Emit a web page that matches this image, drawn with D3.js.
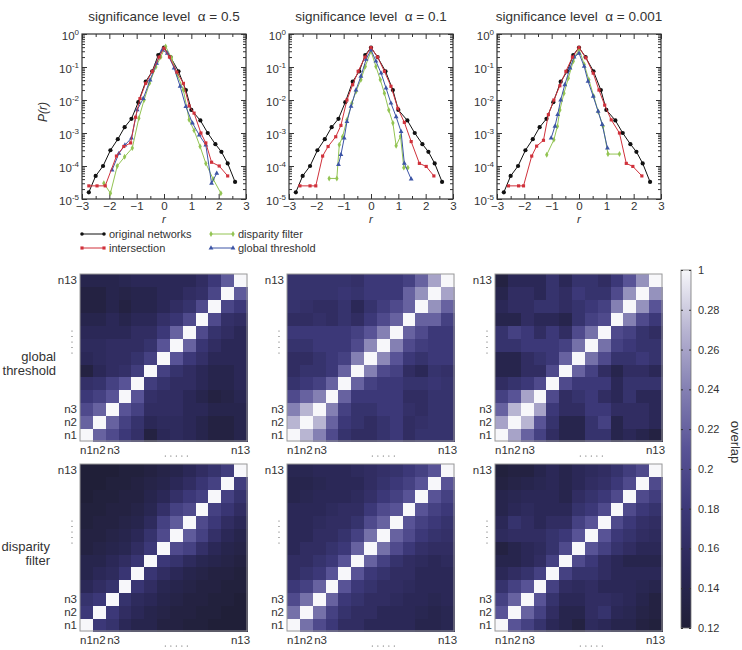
<!DOCTYPE html>
<meta charset="utf-8">
<style>
  body { margin: 0; background: #fff; }
  text { font-family: "Liberation Sans", Arial, sans-serif; fill: #333; }
  .axis path { display: none; }
  .axis line { stroke: #333; }
  rect.cell { shape-rendering: crispEdges; }
</style>
<body>
<script src="https://d3js.org/d3.v7.min.js"></script>
<script>

// ---- data ----
var alphas = ["0.5", "0.1", "0.001"];
var xTicks = [-3, -2, -1, 0, 1, 2, 3];
var yTicks = [1, 1e-1, 1e-2, 1e-3, 1e-4, 1e-5];
var yExp = ["0", "-1", "-2", "-3", "-4", "-5"];

// original networks (same in every panel)
var original = [[-2.75,1.6e-5],[-2.5,5e-5],[-2.23,1e-4],[-1.96,3e-4],[-1.69,6.5e-4],[-1.44,1.5e-3],
  [-1.19,2.7e-3],[-0.94,8.6e-3],[-0.67,3.6e-2],[-0.43,7.4e-2],[-0.21,2.3e-1],[0,3.9e-1],[0.24,2e-1],
  [0.53,7.4e-2],[0.8,2e-2],[1.0,5e-3],[1.33,2.4e-3],[1.6,1e-3],[1.88,4.6e-4],[2.1,2.7e-4],[2.33,1.2e-4],[2.6,3.3e-5]];

var intersect05 = [[-2.75,2.5e-5],[-2.45,2.5e-5],[-2.15,2.5e-5],[-1.74,2e-4],[-1.47,3.9e-4],[-1.22,5e-4],
  [-1.04,3e-3],[-0.88,1.1e-2],[-0.67,3.2e-2],[-0.43,7.3e-2],[-0.18,2e-1],[0,3.7e-1],[0.2,2e-1],[0.47,7e-2],
  [0.71,3.2e-2],[0.92,6.6e-3],[1.1,4e-3],[1.35,1e-3],[1.53,5e-4],[1.74,1.3e-4],[2.02,1e-4],[2.33,5e-5]];
var disparity05 = [[-2.2,3e-5],[-1.96,1.5e-5],[-1.71,1e-4],[-1.44,1.9e-4],[-1.16,3.5e-4],[-0.92,2.8e-3],
  [-0.73,1e-2],[-0.53,3.2e-2],[-0.3,1e-1],[-0.12,2e-1],[0.06,4.2e-1],[0.27,1.9e-1],[0.49,5.8e-2],[0.71,2e-2],
  [0.92,2.5e-3],[1.1,1.2e-3],[1.32,3.9e-4],[1.53,1.2e-4],[1.8,4e-5],[2.08,1.5e-5]];
var global05 = [[-1.9,7.5e-5],[-1.65,2.4e-4],[-1.43,4.3e-4],[-1.19,7e-4],[-0.98,5e-3],[-0.76,1.1e-2],
  [-0.51,4e-2],[-0.27,1.3e-1],[-0.06,3.3e-1],[0.12,2.6e-1],[0.37,9.3e-2],[0.59,2.6e-2],[0.8,6.3e-3],
  [1.04,2e-3],[1.29,8.7e-4],[1.53,4.3e-4],[1.74,3e-5],[1.93,6e-5]];

var intersect01 = [[-2.6,2.5e-5],[-2.23,2.5e-5],[-2.02,2.5e-5],[-1.77,2e-4],[-1.57,3.9e-4],[-1.29,7.7e-4],
  [-1.1,1.7e-3],[-0.88,1e-2],[-0.67,2.9e-2],[-0.47,7.4e-2],[-0.22,2e-1],[0,3.9e-1],[0.24,2e-1],[0.49,7.4e-2],
  [0.73,2.6e-2],[0.98,5.6e-3],[1.22,2.1e-3],[1.47,5.5e-4],[1.77,1.2e-4],[2.02,9.7e-5],[2.3,5e-5]];
var disparity01 = [[-1.53,4.2e-5],[-1.25,4.2e-5],[-1.16,4.4e-4],[-1.04,7.7e-4],[-0.88,2.5e-3],[-0.7,8e-3],
  [-0.55,1.8e-2],[-0.37,4.1e-2],[-0.21,1.04e-1],[0,3e-1],[0.18,1.04e-1],[0.34,4.1e-2],[0.49,1.6e-2],
  [0.65,5e-3],[0.8,2e-3],[0.92,4.1e-4],[1.08,8e-4],[1.2,8.9e-5],[1.35,8.9e-5]];
var global01 = [[-1.19,1.1e-4],[-1.1,2.2e-4],[-0.98,7e-4],[-0.88,2.2e-3],[-0.73,6.4e-3],[-0.55,2e-2],
  [-0.37,5.2e-2],[-0.18,1.7e-1],[0,3.3e-1],[0.18,1.5e-1],[0.37,6.5e-2],[0.55,2.3e-2],[0.73,8e-3],
  [0.92,3.1e-3],[1.1,1.1e-3],[1.22,1.2e-4],[1.47,4e-5]];

var intersect0001 = [[-2.58,2.5e-5],[-2.21,2.5e-5],[-2.03,2.5e-5],[-1.73,2e-4],[-1.55,4e-4],[-1.3,6e-4],
  [-1.12,3.6e-3],[-0.92,1e-2],[-0.7,2.7e-2],[-0.48,7.4e-2],[-0.24,2e-1],[0,3.9e-1],[0.25,1.9e-1],
  [0.52,6.5e-2],[0.73,2e-2],[0.94,7e-3],[1.18,2.5e-3],[1.48,1e-3],[1.73,1.2e-4],[1.97,9.7e-5],[2.3,5e-5]];
var disparity0001 = [[-1.18,2.2e-4],[-0.92,6.2e-4],[-0.79,1.6e-3],[-0.7,5e-3],[-0.55,1.6e-2],[-0.39,4.6e-2],
  [-0.21,1.5e-1],[0,3.5e-1],[0.19,1.2e-1],[0.36,4.1e-2],[0.54,1.3e-2],[0.7,4.5e-3],[0.88,1.6e-3],
  [1.06,2.3e-4],[1.48,2.3e-4]];
var global0001 = [[-1.02,7e-4],[-0.88,1.6e-3],[-0.78,3.6e-3],[-0.67,1e-2],[-0.52,2.9e-2],[-0.33,9.3e-2],
  [-0.18,2e-1],[0,2.6e-1],[0.19,1.04e-1],[0.33,3.7e-2],[0.52,1.3e-2],[0.7,4.5e-3],[0.85,1.8e-3],[1.04,3.5e-4]];

// overlap matrices, lower triangle: row i (n2..n13) holds columns n1..n(i)
var gt05 = [
  [0.22],
  [0.20,0.22],
  [0.18,0.19,0.21],
  [0.165,0.17,0.19,0.21],
  [0.13,0.15,0.16,0.165,0.185],
  [0.15,0.155,0.16,0.16,0.17,0.19],
  [0.155,0.155,0.16,0.16,0.16,0.17,0.21],
  [0.15,0.15,0.15,0.15,0.16,0.16,0.18,0.22],
  [0.14,0.14,0.15,0.14,0.15,0.15,0.165,0.175,0.20],
  [0.13,0.13,0.14,0.13,0.14,0.14,0.15,0.16,0.17,0.20],
  [0.13,0.13,0.14,0.135,0.14,0.14,0.15,0.15,0.16,0.165,0.195],
  [0.14,0.14,0.14,0.145,0.15,0.15,0.15,0.15,0.15,0.16,0.18,0.215]];
var gt01 = [
  [0.27],
  [0.24,0.27],
  [0.20,0.22,0.24],
  [0.17,0.18,0.19,0.22],
  [0.16,0.17,0.17,0.18,0.22],
  [0.16,0.16,0.17,0.18,0.19,0.24],
  [0.17,0.17,0.18,0.18,0.18,0.20,0.245],
  [0.18,0.18,0.18,0.18,0.18,0.19,0.21,0.24],
  [0.16,0.16,0.165,0.16,0.17,0.16,0.18,0.20,0.22],
  [0.17,0.165,0.16,0.16,0.17,0.15,0.17,0.185,0.20,0.22],
  [0.17,0.17,0.17,0.17,0.175,0.17,0.18,0.18,0.18,0.22,0.25],
  [0.17,0.17,0.17,0.17,0.17,0.165,0.18,0.18,0.18,0.19,0.22,0.26]];
var gt0001 = [
  [0.26],
  [0.22,0.27],
  [0.19,0.21,0.26],
  [0.16,0.17,0.18,0.20],
  [0.14,0.14,0.16,0.16,0.20],
  [0.14,0.14,0.16,0.17,0.18,0.22],
  [0.17,0.17,0.18,0.18,0.18,0.19,0.23],
  [0.17,0.19,0.18,0.16,0.18,0.16,0.20,0.23],
  [0.14,0.14,0.16,0.15,0.15,0.14,0.17,0.19,0.20],
  [0.15,0.16,0.16,0.17,0.17,0.16,0.17,0.18,0.19,0.24],
  [0.14,0.16,0.16,0.15,0.17,0.16,0.18,0.17,0.17,0.20,0.25],
  [0.13,0.15,0.15,0.15,0.17,0.15,0.17,0.17,0.16,0.18,0.21,0.25]];
var df05 = [
  [0.18],
  [0.17,0.18],
  [0.15,0.16,0.17],
  [0.14,0.15,0.155,0.175],
  [0.14,0.14,0.15,0.16,0.175],
  [0.13,0.135,0.14,0.145,0.16,0.18],
  [0.13,0.13,0.135,0.14,0.15,0.17,0.20],
  [0.125,0.13,0.13,0.135,0.14,0.155,0.19,0.215],
  [0.125,0.125,0.13,0.13,0.135,0.145,0.165,0.19,0.20],
  [0.12,0.125,0.125,0.13,0.13,0.14,0.15,0.165,0.18,0.19],
  [0.12,0.12,0.125,0.125,0.13,0.135,0.14,0.15,0.16,0.175,0.19],
  [0.12,0.12,0.12,0.125,0.125,0.13,0.135,0.14,0.15,0.16,0.17,0.185]];
var df01 = [
  [0.23],
  [0.20,0.23],
  [0.18,0.19,0.22],
  [0.16,0.17,0.18,0.21],
  [0.16,0.16,0.17,0.18,0.21],
  [0.15,0.16,0.16,0.17,0.18,0.22],
  [0.15,0.15,0.16,0.16,0.17,0.19,0.23],
  [0.15,0.15,0.155,0.16,0.16,0.17,0.20,0.22],
  [0.15,0.15,0.15,0.155,0.16,0.16,0.18,0.20,0.21],
  [0.14,0.145,0.15,0.15,0.15,0.155,0.165,0.18,0.19,0.21],
  [0.14,0.14,0.145,0.15,0.15,0.15,0.16,0.17,0.18,0.19,0.21],
  [0.145,0.145,0.15,0.15,0.15,0.155,0.16,0.165,0.17,0.18,0.19,0.21]];
var df0001 = [
  [0.21],
  [0.19,0.22],
  [0.17,0.19,0.21],
  [0.15,0.16,0.17,0.19],
  [0.14,0.14,0.15,0.16,0.19],
  [0.13,0.14,0.15,0.155,0.17,0.20],
  [0.155,0.16,0.16,0.16,0.17,0.18,0.21],
  [0.15,0.17,0.16,0.15,0.16,0.16,0.19,0.21],
  [0.14,0.15,0.155,0.15,0.15,0.15,0.17,0.18,0.20],
  [0.14,0.145,0.15,0.15,0.15,0.14,0.16,0.17,0.18,0.20],
  [0.13,0.135,0.14,0.145,0.15,0.14,0.15,0.16,0.165,0.18,0.20],
  [0.125,0.13,0.13,0.14,0.15,0.14,0.15,0.155,0.16,0.17,0.185,0.20]];

var cbTicks = [0.12, 0.14, 0.16, 0.18, 0.2, 0.22, 0.24, 0.26, 0.28, 0.30];

// ---- layout ----
var svg = d3.select("body").append("svg").attr("width", 742).attr("height", 650);

var seriesStyle = [
  {name: "original networks", color: "#111111", sym: d3.symbolCircle},
  {name: "disparity filter", color: "#93c453", sym: d3.symbolDiamond},
  {name: "global threshold", color: "#3d55a6", sym: d3.symbolTriangle},
  {name: "intersection", color: "#d0313b", sym: d3.symbolSquare}
];

var panels = [
  [original, disparity05, global05, intersect05],
  [original, disparity01, global01, intersect01],
  [original, disparity0001, global0001, intersect0001]
];

var px = [82, 289, 497], pTop = 34, pW = 164, pH = 165;

var minorY = [];
for (var e = -5; e < 0; e++) for (var m = 2; m <= 9; m++) minorY.push(m * Math.pow(10, e));
var minorX = [-2.5, -1.5, -0.5, 0.5, 1.5, 2.5];

panels.forEach(function(series, k) {
  var x = d3.scaleLinear().domain([-3, 3]).range([px[k], px[k] + pW]);
  var y = d3.scaleLog().domain([1e-5, 1]).range([pTop + pH, pTop]);
  var g = svg.append("g");

  g.append("text")
    .attr("x", px[k] + pW / 2).attr("y", 21)
    .attr("text-anchor", "middle").style("font-size", "13.5px").style("white-space", "pre")
    .text("significance level  \u03b1 = " + alphas[k]);

  // ticks on all four sides, pointing inwards
  g.append("g").attr("class", "axis").attr("transform", "translate(0," + (pTop + pH) + ")")
    .call(d3.axisBottom(x).tickValues(xTicks).tickSize(-5).tickPadding(3).tickFormat(d3.format("d")))
    .selectAll("text").style("font-size", "11.5px").attr("fill", "#333");
  g.append("g").attr("class", "axis").attr("transform", "translate(0," + (pTop + pH) + ")")
    .call(d3.axisBottom(x).tickValues(minorX).tickSize(-3).tickFormat(""));
  g.append("g").attr("class", "axis").attr("transform", "translate(0," + pTop + ")")
    .call(d3.axisTop(x).tickValues(xTicks).tickSize(-5).tickFormat(""));
  g.append("g").attr("class", "axis").attr("transform", "translate(0," + pTop + ")")
    .call(d3.axisTop(x).tickValues(minorX).tickSize(-3).tickFormat(""));

  var yl = g.append("g").attr("class", "axis").attr("transform", "translate(" + px[k] + ",0)")
    .call(d3.axisLeft(y).tickValues(yTicks).tickSize(-5).tickPadding(3).tickFormat(""));
  yl.selectAll(".tick text").each(function(d, i) {
    var t = d3.select(this).style("font-size", "11.5px").attr("fill", "#333").attr("dy", "0.45em");
    t.append("tspan").text("10");
    t.append("tspan").attr("dy", "-0.6em").style("font-size", "8px").text(yExp[i]);
  });
  g.append("g").attr("class", "axis").attr("transform", "translate(" + px[k] + ",0)")
    .call(d3.axisLeft(y).tickValues(minorY).tickSize(-3).tickFormat(""));
  g.append("g").attr("class", "axis").attr("transform", "translate(" + (px[k] + pW) + ",0)")
    .call(d3.axisRight(y).tickValues(yTicks).tickSize(-5).tickFormat(""));
  g.append("g").attr("class", "axis").attr("transform", "translate(" + (px[k] + pW) + ",0)")
    .call(d3.axisRight(y).tickValues(minorY).tickSize(-3).tickFormat(""));

  g.append("rect").attr("x", px[k]).attr("y", pTop).attr("width", pW).attr("height", pH)
    .attr("fill", "none").attr("stroke", "#333").attr("stroke-width", 1.2);

  g.append("text").attr("x", px[k] + pW / 2).attr("y", 223)
    .attr("text-anchor", "middle").style("font-size", "11.5px").style("font-style", "italic").text("r");

  var line = d3.line().x(function(d) { return x(d[0]); }).y(function(d) { return y(d[1]); });
  series.forEach(function(s, si) {
    var st = seriesStyle[si];
    g.append("path").datum(s).attr("d", line)
      .attr("fill", "none").attr("stroke", st.color).attr("stroke-width", 1);
    g.selectAll(null).data(s).enter().append("path")
      .attr("transform", function(d) { return "translate(" + x(d[0]) + "," + y(d[1]) + ")"; })
      .attr("d", d3.symbol().type(st.sym).size(st.sym === d3.symbolCircle ? 14 : 10))
      .attr("fill", st.color);
  });
});

svg.append("text").attr("transform", "translate(47,112) rotate(-90)")
  .attr("text-anchor", "middle").style("font-size", "12px").style("font-style", "italic").text("P(r)");

// legend
var legend = [
  {s: seriesStyle[0], x: 82, y: 234},
  {s: seriesStyle[3], x: 82, y: 248},
  {s: seriesStyle[1], x: 211, y: 234},
  {s: seriesStyle[2], x: 211, y: 248}
];
legend.forEach(function(l) {
  svg.append("line").attr("x1", l.x).attr("x2", l.x + 22).attr("y1", l.y).attr("y2", l.y)
    .attr("stroke", l.s.color).attr("stroke-width", 1);
  [l.x, l.x + 22].forEach(function(cx) {
    svg.append("path").attr("transform", "translate(" + cx + "," + l.y + ")")
      .attr("d", d3.symbol().type(l.s.sym).size(10)).attr("fill", l.s.color);
  });
  svg.append("text").attr("x", l.x + 27).attr("y", l.y + 4).style("font-size", "11px").text(l.s.name);
});

// ---- heatmaps ----
var color = d3.scaleLinear()
  .domain([0.12, 0.15, 0.18, 0.21, 0.24, 0.27, 0.30])
  .range(["#201f38", "#2b2857", "#3c3878", "#585396", "#8480b3", "#b8b5d2", "#f7f7fa"])
  .clamp(true);

function fullMatrix(tri) {
  var M = [];
  for (var i = 0; i < 13; i++) {
    M.push([]);
    for (var j = 0; j < 13; j++) {
      if (i === j) M[i].push(1);
      else if (j < i) M[i].push(tri[i - 1][j]);
      else M[i].push(tri[j - 1][i]);
    }
  }
  return M;
}

var maps = [[gt05, gt01, gt0001], [df05, df01, df0001]];
var hx = [80, 287, 495], hy = [274, 464], hs = 167;
var idx = d3.range(13);

maps.forEach(function(row, r) {
  row.forEach(function(tri, c) {
    var M = fullMatrix(tri);
    var bx = d3.scaleBand().domain(idx).range([hx[c], hx[c] + hs]);
    var by = d3.scaleBand().domain(idx).range([hy[r] + hs, hy[r]]);
    var g = svg.append("g");
    var cells = [];
    M.forEach(function(rowv, i) { rowv.forEach(function(v, j) { cells.push({i: i, j: j, v: v}); }); });
    g.selectAll("rect.cell").data(cells).enter().append("rect").attr("class", "cell")
      .attr("x", function(d) { return bx(d.j); })
      .attr("y", function(d) { return by(d.i); })
      .attr("width", bx.bandwidth() + 0.6).attr("height", by.bandwidth() + 0.6)
      .attr("fill", function(d) { return color(d.v); });
    g.append("rect").attr("x", hx[c]).attr("y", hy[r]).attr("width", hs).attr("height", hs)
      .attr("fill", "none").attr("stroke", "#999").attr("stroke-width", 1);

    // labels
    var yLab = [[12, "n13"], [2, "n3"], [1, "n2"], [0, "n1"]];
    yLab.forEach(function(p) {
      g.append("text").attr("x", hx[c] - 3).attr("y", by(p[0]) + by.bandwidth() / 2 + 4)
        .attr("text-anchor", "end").style("font-size", "11.5px").text(p[1]);
    });
    for (var q = 0; q < 5; q++) {
      g.append("circle").attr("cx", hx[c] - 8).attr("cy", hy[r] + 57 + q * 5.5).attr("r", 0.6).attr("fill", "#555");
      g.append("circle").attr("cx", bx(7) + bx.bandwidth() / 2 - 11 + q * 5.5).attr("cy", hy[r] + hs + 15).attr("r", 0.6).attr("fill", "#555");
    }
    var xLab = [[0, "n1", 0], [1, "n2", 0], [2, "n3", 1.5], [12, "n13", 0]];
    xLab.forEach(function(p) {
      g.append("text").attr("x", bx(p[0]) + bx.bandwidth() / 2 + p[2]).attr("y", hy[r] + hs + 13)
        .attr("text-anchor", "middle").style("font-size", "11.5px").text(p[1]);
    });
  });
});

svg.append("text").attr("x", 56).attr("y", 361).attr("text-anchor", "end").style("font-size", "13px").text("global");
svg.append("text").attr("x", 56).attr("y", 375).attr("text-anchor", "end").style("font-size", "13px").text("threshold");
svg.append("text").attr("x", 50).attr("y", 551).attr("text-anchor", "end").style("font-size", "13px").text("disparity");
svg.append("text").attr("x", 50).attr("y", 565).attr("text-anchor", "end").style("font-size", "13px").text("filter");

// ---- colorbar ----
var cbX = 681, cbW = 10;
var cbY = d3.scaleLinear().domain([0.12, 0.30]).range([628, 270]);
var grad = svg.append("defs").append("linearGradient").attr("id", "cb")
  .attr("x1", 0).attr("y1", 1).attr("x2", 0).attr("y2", 0);
d3.range(0.12, 0.3001, 0.01).forEach(function(v) {
  grad.append("stop").attr("offset", (v - 0.12) / 0.18).attr("stop-color", color(v));
});
svg.append("rect").attr("x", cbX).attr("y", 270).attr("width", cbW).attr("height", 358)
  .attr("fill", "url(#cb)").attr("stroke", "#777").attr("stroke-width", 0.8);
svg.append("g").attr("class", "axis").attr("transform", "translate(" + (cbX + cbW) + ",0)")
  .call(d3.axisRight(cbY).tickValues(cbTicks).tickSize(-2).tickPadding(7)
    .tickFormat(function(d) { return d > 0.29 ? "1" : String(+d.toFixed(2)); }))
  .call(function(a) { a.selectAll("line").attr("stroke", "#888"); })
  .selectAll("text").style("font-size", "11px").attr("fill", "#333");
svg.append("g").attr("class", "axis").attr("transform", "translate(" + cbX + ",0)")
  .call(d3.axisLeft(cbY).tickValues(cbTicks).tickSize(-2).tickFormat(""))
  .call(function(a) { a.selectAll("line").attr("stroke", "#888"); });
svg.append("text").attr("transform", "translate(731,442) rotate(90)")
  .attr("text-anchor", "middle").style("font-size", "13px").text("overlap");

</script>
</body>
